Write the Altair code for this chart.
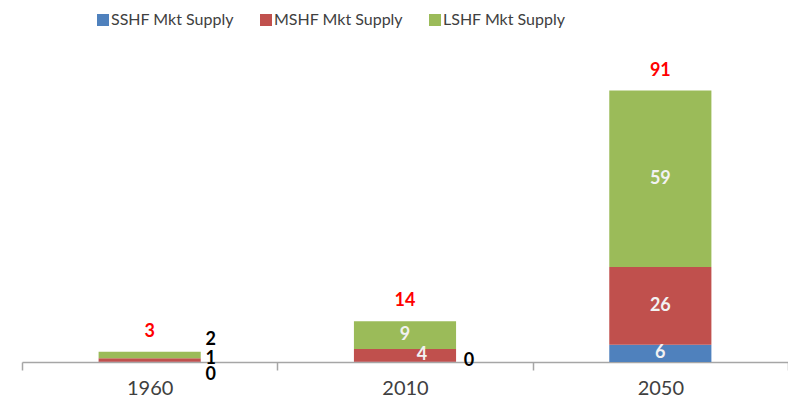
import altair as alt
import pandas as pd

years = ["1960", "2010", "2050"]
series = ["SSHF Mkt Supply", "MSHF Mkt Supply", "LSHF Mkt Supply"]
colors = ["#4F81BD", "#C0504D", "#9BBB59"]
sshf = [0.1, 0.1, 5.8]
mshf = [1.2, 4.3, 26.1]
lshf = [2.1, 9.3, 59.2]

rows = []
for i, y in enumerate(years):
    for k, (name, vals) in enumerate(zip(series, [sshf, mshf, lshf])):
        rows.append({"year": y, "series": name, "value": vals[i], "order": k})
df = pd.DataFrame(rows)

FONT = "Lato"
x_axis = alt.Axis(tickBand="extent", labelAngle=0, labelFont=FONT,
                  labelFontSize=20, labelColor="#404040",
                  domainColor="#A6A6A6", domainWidth=1.5,
                  tickColor="#A6A6A6", tickWidth=1.5, tickSize=8,
                  labelPadding=8, grid=False)
x_scale = alt.Scale(paddingInner=0, paddingOuter=0)
x_enc = alt.X("year:N", sort=years, title=None, scale=x_scale, axis=x_axis)
y_scale = alt.Scale(domain=[0, 100], nice=False)

base = alt.Chart(df)

bars = base.mark_bar(width=alt.RelativeBandSize(0.4)).encode(
    x=x_enc,
    y=alt.Y("value:Q", stack="zero", scale=y_scale, axis=None, title=None),
    color=alt.Color("series:N", sort=series,
                    scale=alt.Scale(domain=series, range=colors),
                    legend=alt.Legend(title=None, orient="none", direction="horizontal",
                                      legendX=73, legendY=-52, symbolType="square",
                                      symbolSize=144, symbolStrokeWidth=0,
                                      labelFont=FONT, labelFontSize=16,
                                      labelColor="#404040", columnPadding=24,
                                      labelOffset=0, padding=0)),
    order=alt.Order("order:Q"),
)

stacked = base.transform_stack(
    stack="value", groupby=["year"], as_=["y0", "y1"],
    sort=[alt.SortField("order", order="ascending")]
).transform_calculate(mid="(datum.y0 + datum.y1) / 2")


def label_layer(filt, color, dx=0, dy=0):
    return stacked.transform_filter(filt).mark_text(
        font=FONT, fontSize=18, fontWeight="bold", color=color,
        baseline="middle", align="center", dx=dx, dy=dy
    ).encode(
        x=x_enc,
        y=alt.Y("mid:Q", scale=y_scale, axis=None),
        text=alt.Text("value:Q", format=".0f"),
    )


inside = label_layer("datum.year == '2050' || (datum.year == '2010' && datum.order == 2)", "#F2F2F2")
inside_4 = label_layer("datum.year == '2010' && datum.order == 1", "#F2F2F2", dx=17)
out_1960_0 = label_layer("datum.year == '1960' && datum.order == 0", "#000000", dx=61, dy=13)
out_1960_1 = label_layer("datum.year == '1960' && datum.order == 1", "#000000", dx=61, dy=-1)
out_1960_2 = label_layer("datum.year == '1960' && datum.order == 2", "#000000", dx=61, dy=-15)
out_2010_0 = label_layer("datum.year == '2010' && datum.order == 0", "#000000", dx=64, dy=-1)

totals = base.transform_aggregate(total="sum(value)", groupby=["year"]).mark_text(
    font=FONT, fontSize=18, fontWeight="bold", color="#FF0000",
    baseline="middle", align="center", dy=-20
).encode(
    x=x_enc,
    y=alt.Y("total:Q", scale=y_scale, axis=None),
    text=alt.Text("total:Q", format=".0f"),
)

chart = alt.layer(
    bars, inside, inside_4, out_1960_0, out_1960_1, out_1960_2, out_2010_0, totals
).properties(
    width=766, height=298,
    background="white",
    autosize=alt.AutoSizeParams(type="none"),
    padding={"left": 14, "top": 56, "right": 0, "bottom": 38},
).configure_view(strokeWidth=0, stroke="transparent")

chart.save("out.html", embed_options={"renderer": "svg", "actions": False})
